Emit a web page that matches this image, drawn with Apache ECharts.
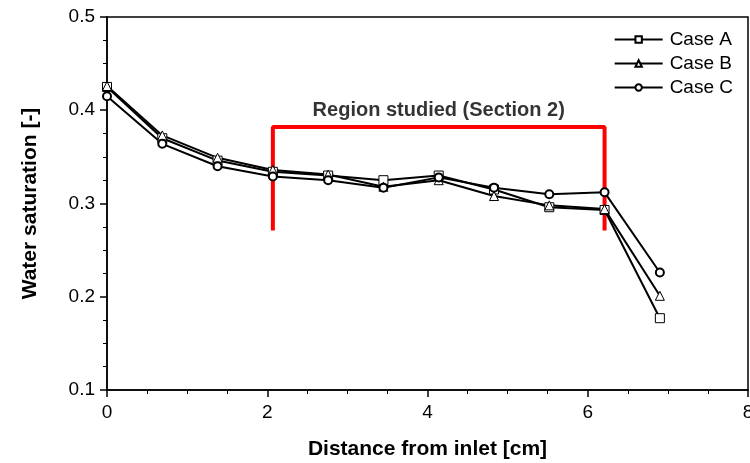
<!DOCTYPE html>
<html><head><meta charset="utf-8">
<script src="https://cdn.jsdelivr.net/npm/echarts@6/dist/echarts.min.js"></script>
<style>html,body{margin:0;padding:0;background:#fff}#c{width:750px;height:463px}</style>
</head><body><div id="c"></div>
<script>
const distance = [0, 0.69, 1.38, 2.07, 2.76, 3.45, 4.14, 4.83, 5.52, 6.21, 6.9];
const caseA = [0.425, 0.370, 0.346, 0.334, 0.330, 0.325, 0.330, 0.315, 0.296, 0.293, 0.177];
const caseB = [0.426, 0.373, 0.349, 0.336, 0.331, 0.318, 0.325, 0.308, 0.298, 0.294, 0.201];
const caseC = [0.415, 0.364, 0.340, 0.329, 0.325, 0.317, 0.328, 0.317, 0.310, 0.312, 0.226];
const regionX = [2.07, 2.07, 6.21, 6.21];
const regionY = [0.271, 0.382, 0.382, 0.271];
const regionLabel = 'Region studied (Section 2)';
const labelPos = [4.14, 0.382];

const font = 'Liberation Sans, Arial, sans-serif';
const zip = (xs, ys) => xs.map((x, i) => [x, ys[i]]);
function caseSeries(name, data, symbol, bw) {
  return {
    name, type: 'line', data: zip(distance, data), symbol, symbolSize: symbol === 'circle' ? 8 : 9,
    lineStyle: {color: '#000', width: 2},
    itemStyle: {color: '#fff', borderColor: '#000', borderWidth: bw},
    z: 3
  };
}
const chart = echarts.init(document.getElementById('c'));
chart.setOption({
  animation: false,
  grid: {left: 107, right: 2, top: 17, bottom: 73, show: true, borderColor: '#000', borderWidth: 1.5,
    containLabel: false, outerBoundsMode: 'none'},
  legend: {
    right: 12, top: 25, orient: 'vertical', itemGap: 5, itemWidth: 48, itemHeight: 8,
    data: ['Case A', 'Case B', 'Case C'],
    textStyle: {fontFamily: font, fontSize: 19, color: '#000', padding: [0, 0, 0, 2]}
  },
  xAxis: {
    type: 'value', min: 0, max: 8, interval: 2,
    name: 'Distance from inlet [cm]', nameLocation: 'middle', nameGap: 49,
    nameTextStyle: {fontFamily: font, fontSize: 21, fontWeight: 'bold', color: '#000'},
    axisLine: {lineStyle: {color: '#000', width: 1.5}},
    axisTick: {show: true, length: 7, lineStyle: {color: '#000', width: 1.5}},
    minorTick: {show: true, splitNumber: 4, length: 4, lineStyle: {color: '#000', width: 1}},
    axisLabel: {fontFamily: font, fontSize: 19, color: '#000', margin: 13},
    splitLine: {show: false}
  },
  yAxis: {
    type: 'value', min: 0.1, max: 0.5, interval: 0.1,
    name: 'Water saturation [-]', nameLocation: 'middle', nameGap: 66,
    nameTextStyle: {fontFamily: font, fontSize: 21, fontWeight: 'bold', color: '#000'},
    axisLine: {show: true, lineStyle: {color: '#000', width: 1.5}},
    axisTick: {show: true, length: 7, lineStyle: {color: '#000', width: 1.5}},
    minorTick: {show: true, splitNumber: 4, length: 4, lineStyle: {color: '#000', width: 1}},
    axisLabel: {fontFamily: font, fontSize: 19, color: '#000', margin: 12, formatter: v => v.toFixed(1)},
    splitLine: {show: false}
  },
  series: [
    caseSeries('Case A', caseA, 'rect', 1),
    caseSeries('Case B', caseB, 'triangle', 1),
    caseSeries('Case C', caseC, 'circle', 2),
    {
      name: 'region', type: 'line', data: zip(regionX, regionY), symbol: 'none',
      lineStyle: {color: '#ff0000', width: 4}, z: 2, silent: true
    },
    {
      name: 'regionLabel', type: 'scatter', data: [labelPos], symbolSize: 0, silent: true,
      label: {show: true, position: 'top', distance: 7, formatter: regionLabel,
        fontFamily: font, fontSize: 20, fontWeight: 'bold', color: '#000'}
    }
  ]
});
</script></body></html>
